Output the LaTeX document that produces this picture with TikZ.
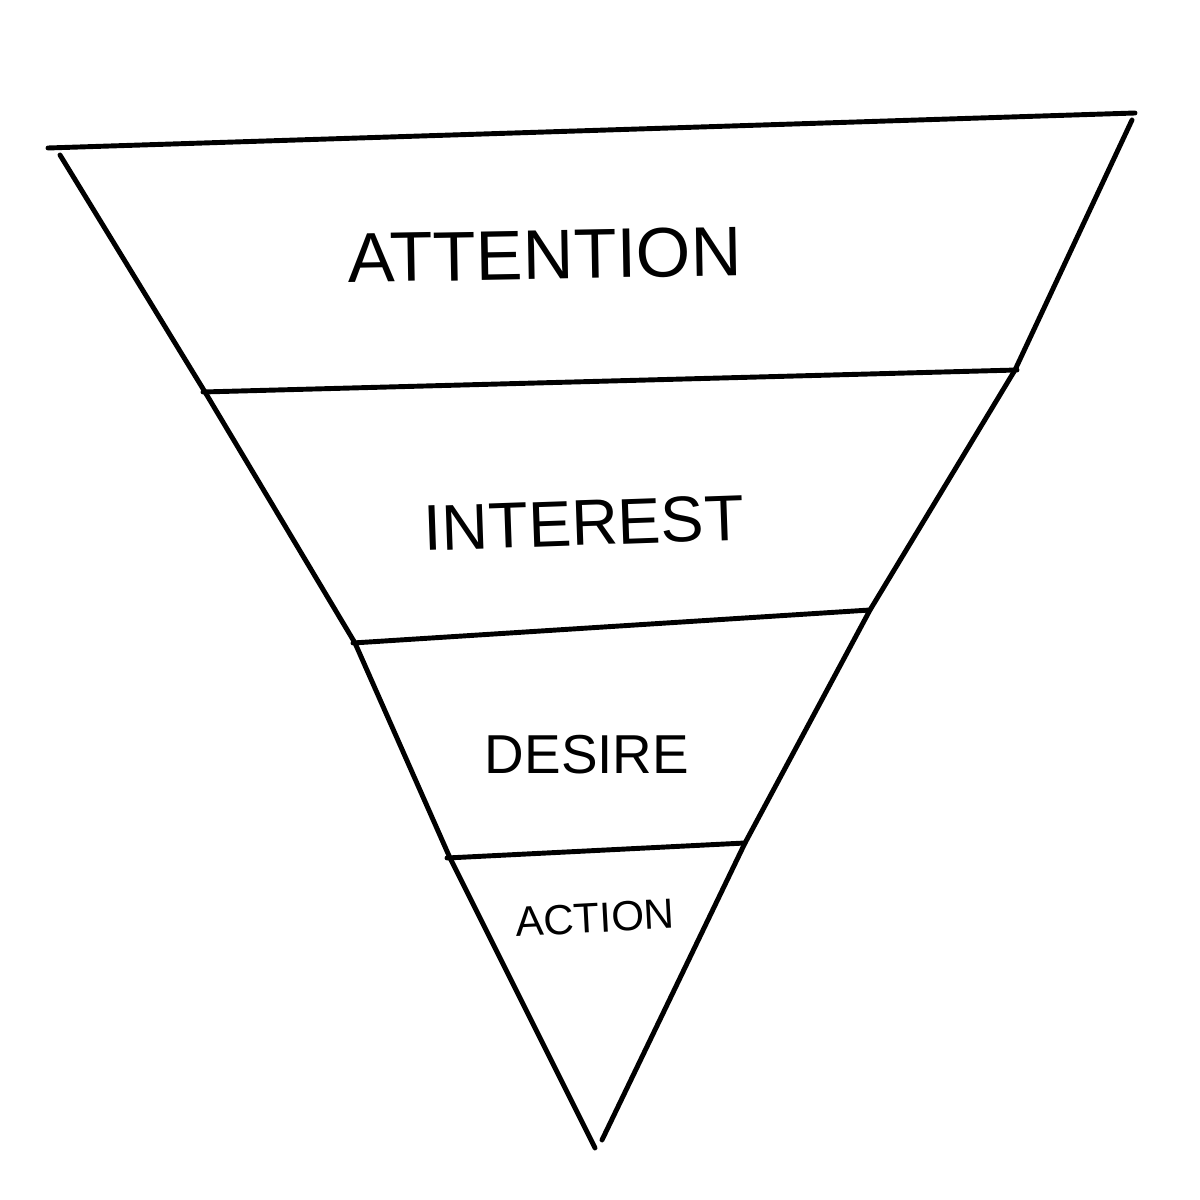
\documentclass[tikz,border=0pt]{standalone}
\usepackage{fontspec}
\setmainfont{Liberation Sans}
\usepackage{tikz}
\usetikzlibrary{calc}
\tikzset{
  edge/.style={line width=1.4pt,line cap=round,line join=round},
  stage/.style={inner sep=0pt,anchor=center}
}
\begin{document}
\begin{tikzpicture}
  \useasboundingbox (0,0) rectangle (12,12);
  % ---- corner and band points ----
  \coordinate (tl) at (0.48,10.52);
  \coordinate (tr) at (11.35,10.87);
  \coordinate (l1) at (2.03,8.08);
  \coordinate (r1) at (10.17,8.30);
  \coordinate (l2) at (3.53,5.57);
  \coordinate (r2) at (8.70,5.90);
  \coordinate (l3) at (4.47,3.42);
  \coordinate (r3) at (7.45,3.57);
  \coordinate (tip) at (5.95,0.52);
  % ---- outline ----
  \draw[edge] (tl) -- (tr);
  \draw[edge] (0.60,10.45) -- (2.05,8.08) -- (3.55,5.57) -- (4.50,3.42) -- (tip);
  \draw[edge] (11.32,10.80) -- (10.15,8.30) -- (8.70,5.90) -- (7.45,3.57) -- (6.02,0.60);
  % ---- band dividers ----
  \draw[edge] (l1) -- (r1);
  \draw[edge] (l2) -- (r2);
  \draw[edge] (l3) -- (r3);
  % ---- stage labels ----
  \node[stage,font=\fontsize{20}{24}\selectfont,rotate=1] (attention) at (5.45,9.45) {ATTENTION};
  \node[stage,font=\fontsize{18.4}{22}\selectfont,rotate=2] (interest) at (5.84,6.77) {INTEREST};
  \node[stage,font=\fontsize{15.6}{19}\selectfont] (desire) at (5.87,4.45) {DESIRE};
  \node[stage,font=\fontsize{12}{15}\selectfont,rotate=3] (action) at (5.95,2.82) {ACTION};
\end{tikzpicture}
\end{document}
